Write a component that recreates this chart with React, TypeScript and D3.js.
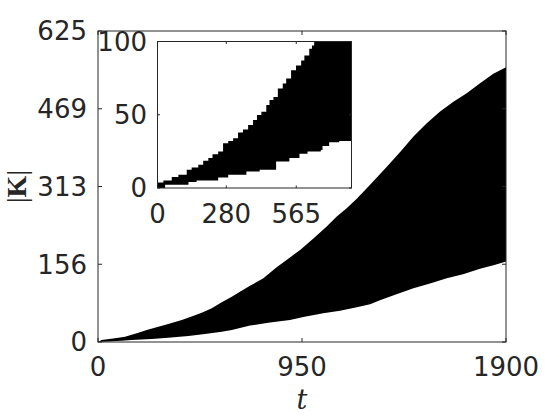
import React from 'react';
import * as d3 from 'd3';

// main plot: upper and lower bound of |K| over t
const upperT = [0, 17, 79, 126, 188, 227, 281, 327, 390, 436, 483, 530, 576, 623, 661, 708, 770, 832, 894, 941, 1003, 1065, 1112, 1158, 1205, 1267, 1345, 1407, 1469, 1531, 1593, 1655, 1717, 1779, 1841, 1900];
const upperK = [0, 4, 7.4, 10.7, 18.8, 24, 30.8, 36, 44, 51, 59, 67.7, 79.7, 91, 101, 113, 128, 150, 170, 185, 208, 232, 252, 269, 288, 316, 352, 382, 413, 439.5, 463, 483, 500, 520, 539, 552];
const lowerT = [0, 110, 157, 250, 327, 421, 498, 576, 623, 708, 801, 894, 956, 1049, 1127, 1205, 1267, 1313, 1390, 1469, 1550, 1624, 1700, 1779, 1850, 1900];
const lowerK = [0, 2.7, 4, 6, 8.7, 12, 16, 20.8, 24, 33, 39, 44, 50, 58, 63, 70, 76, 84, 96, 108, 118, 128, 136, 147, 155, 162];

// inset: zoom on the start, step-wise bounds
const insetUpperT = [0, 24, 58, 85, 119, 139, 166, 186, 207, 224, 247, 267, 288, 308, 328, 348, 369, 389, 405, 423, 443, 456, 472, 490, 510, 524, 544, 564, 585, 598, 618, 629, 638, 708, 790];
const insetUpperK = [3.8, 5.2, 7.5, 9.0, 12.4, 14.0, 15.8, 18.6, 20.4, 23.1, 24.9, 30.5, 32.1, 33.9, 37.8, 40.0, 43.0, 46.4, 49.8, 52.0, 56.6, 60, 62.2, 67.9, 71.3, 74.7, 80.3, 83.7, 87.1, 90.5, 95.0, 97.3, 100.5, 115, 135];
const insetLowerT = [0, 31, 126, 159, 247, 288, 362, 416, 483, 537, 578, 611, 665, 672, 699, 740, 790];
const insetLowerK = [0, 2.3, 4.1, 5.2, 7.2, 9.0, 11.3, 12.4, 18.1, 20.4, 23.3, 24.9, 26.0, 28.7, 31.2, 32.1, 33.9];

const mainXTicks = [0, 950, 1900];
const mainYTicks = [0, 156.25, 312.5, 468.75, 625];
const mainYLabels = ['0', '156', '313', '469', '625'];
const insetXTicks = [0, 280, 565];
const insetYTicks = [0, 50, 100];

const ink = '#262626';
const tickFont = '"DejaVu Sans", sans-serif';
const fs = 26;

const zip = (ts: number[], ks: number[]) => ts.map((t, i) => ({ t, k: ks[i] }));

export default function App() {
  const x = d3.scaleLinear().domain([0, 1900]).range([98, 506]);
  const y = d3.scaleLinear().domain([0, 625]).range([342, 31]);
  const ix = d3.scaleLinear().domain([0, 790]).range([157.5, 351.5]);
  const iy = d3.scaleLinear().domain([0, 100]).range([188, 41.5]);

  const mainArea = d3.area<{ t: number; k: number }>()
    .x(d => x(d.t)).y0(y(0)).y1(d => y(d.k));
  const insetArea = d3.area<{ t: number; k: number }>()
    .x(d => ix(d.t)).y0(iy(0)).y1(d => iy(d.k)).curve(d3.curveStepAfter);

  const tl = 4;
  const itl = 2.5;

  return (
    <svg width={560} height={420} style={{ position: 'absolute', left: 0, top: 0, background: '#fff' }}>
      <rect x={0} y={0} width={560} height={420} fill="#fff" />
      <defs>
        <clipPath id="inset-clip">
          <rect x={ix(0)} y={iy(100)} width={ix(790) - ix(0)} height={iy(0) - iy(100)} />
        </clipPath>
      </defs>

      {/* main plot */}
      <path d={mainArea(zip(upperT, upperK)) || ''} fill="#000" />
      <path d={mainArea(zip(lowerT, lowerK)) || ''} fill="#fff" />
      <rect x={x(0)} y={y(625)} width={x(1900) - x(0)} height={y(0) - y(625)} fill="none" stroke={ink} strokeWidth={1} />
      {mainXTicks.map(v => (
        <g key={'mx' + v}>
          <line x1={x(v)} x2={x(v)} y1={y(0)} y2={y(0) - tl} stroke={ink} />
          <line x1={x(v)} x2={x(v)} y1={y(625)} y2={y(625) + tl} stroke={ink} />
          <text x={x(v)} y={376} textAnchor="middle" fontFamily={tickFont} fontSize={fs} fill={ink}>{v}</text>
        </g>
      ))}
      {mainYTicks.map((v, i) => (
        <g key={'my' + v}>
          <line x1={x(0)} x2={x(0) + tl} y1={y(v)} y2={y(v)} stroke={ink} />
          <line x1={x(1900)} x2={x(1900) - tl} y1={y(v)} y2={y(v)} stroke={ink} />
          <text x={87} y={y(v)} dy="0.36em" textAnchor="end" fontFamily={tickFont} fontSize={fs} fill={ink}>{mainYLabels[i]}</text>
        </g>
      ))}
      <text x={302} y={409} textAnchor="middle" fontFamily='"DejaVu Serif", serif' fontStyle="italic" fontSize={27} fill={ink}>t</text>
      <text transform={`translate(26,${y(312.5)}) rotate(-90)`} textAnchor="middle" fontFamily='"Liberation Serif", serif' fontSize={28} fill={ink}>
        <tspan>|</tspan><tspan fontWeight="bold">K</tspan><tspan>|</tspan>
      </text>

      {/* inset */}
      <rect x={ix(0)} y={iy(100)} width={ix(790) - ix(0)} height={iy(0) - iy(100)} fill="#fff" />
      <g clipPath="url(#inset-clip)">
        <path d={insetArea(zip(insetUpperT, insetUpperK)) || ''} fill="#000" />
        <path d={insetArea(zip(insetLowerT, insetLowerK)) || ''} fill="#fff" />
      </g>
      <rect x={ix(0)} y={iy(100)} width={ix(790) - ix(0)} height={iy(0) - iy(100)} fill="none" stroke={ink} strokeWidth={1} />
      {insetXTicks.map(v => (
        <g key={'ix' + v}>
          <line x1={ix(v)} x2={ix(v)} y1={iy(0)} y2={iy(0) - itl} stroke={ink} />
          <line x1={ix(v)} x2={ix(v)} y1={iy(100)} y2={iy(100) + itl} stroke={ink} />
          <text x={ix(v)} y={223} textAnchor="middle" fontFamily={tickFont} fontSize={fs} fill={ink}>{v}</text>
        </g>
      ))}
      {insetYTicks.map(v => (
        <g key={'iy' + v}>
          <line x1={ix(0)} x2={ix(0) + itl} y1={iy(v)} y2={iy(v)} stroke={ink} />
          <line x1={ix(790)} x2={ix(790) - itl} y1={iy(v)} y2={iy(v)} stroke={ink} />
          <text x={147} y={iy(v)} dy="0.36em" textAnchor="end" fontFamily={tickFont} fontSize={fs} fill={ink}>{v}</text>
        </g>
      ))}
    </svg>
  );
}
